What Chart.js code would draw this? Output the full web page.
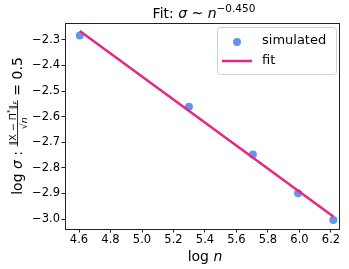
<!DOCTYPE html>
<html>
<head>
<meta charset="utf-8">
<script src="https://cdn.jsdelivr.net/npm/chart.js@4.4.1/dist/chart.umd.min.js"></script>
<style>
  html, body { margin: 0; padding: 0; background: #fff; }
  #wrap { width: 349px; height: 269px; }
</style>
</head>
<body>
<div id="wrap"><canvas id="fitChart" width="349" height="269"></canvas></div>
<script>
// log n for n = 100..500
const logN = [4.605, 5.298, 5.704, 5.991, 6.215];
const logSigma = [-2.283, -2.561, -2.748, -2.899, -3.004];
// fitted line endpoints (slope -0.450)
const fitX = [4.605, 6.215];
const fitY = [-2.265, -2.990];
const seriesNames = ['simulated', 'fit'];
const xTicks = [4.6, 4.8, 5.0, 5.2, 5.4, 5.6, 5.8, 6.0, 6.2];
const yTicks = [-3.0, -2.9, -2.8, -2.7, -2.6, -2.5, -2.4, -2.3];

const FONT = "'DejaVu Sans', sans-serif";
const PT_COLOR = '#6495ed';
const LINE_COLOR = '#e3287f';

const minus = v => v.toFixed(1).replace('-', '\u2212');

// draw a run of text pieces left to right, returns the end x
function runText(ctx, pieces, x, y) {
    pieces.forEach(p => {
        ctx.font = (p.italic ? 'italic ' : '') + p.size + 'px ' + FONT;
        ctx.fillText(p.t, x, y + (p.dy || 0));
        x += ctx.measureText(p.t).width;
    });
    return x;
}
function runWidth(ctx, pieces) {
    let w = 0;
    pieces.forEach(p => {
        ctx.font = (p.italic ? 'italic ' : '') + p.size + 'px ' + FONT;
        w += ctx.measureText(p.t).width;
    });
    return w;
}

const decorations = {
    id: 'decorations',
    afterDraw(chart) {
        const ctx = chart.ctx;
        const a = chart.chartArea;
        ctx.save();
        // frame
        ctx.strokeStyle = '#222';
        ctx.lineWidth = 1;
        ctx.strokeRect(Math.round(a.left) + 0.5, Math.round(a.top) + 0.5,
            Math.round(a.right - a.left), Math.round(a.bottom - a.top));

        ctx.fillStyle = '#000';
        ctx.textBaseline = 'alphabetic';
        const cx = (a.left + a.right) / 2;

        // title
        const title = [
            {t: 'Fit: ', size: 14}, {t: '\u03c3', size: 14, italic: true},
            {t: ' ~ ', size: 14}, {t: 'n', size: 14, italic: true},
            {t: '\u22120.450', size: 10.5, dy: -6}
        ];
        runText(ctx, title, cx - runWidth(ctx, title) / 2 + 2, 18);

        // x label
        const xl = [{t: 'log ', size: 14}, {t: 'n', size: 14, italic: true}];
        runText(ctx, xl, cx - runWidth(ctx, xl) / 2 + 3, 261);

        // y label (rotated)
        ctx.save();
        ctx.translate(22, (a.top + a.bottom) / 2);
        ctx.rotate(-Math.PI / 2);
        const pre = [{t: 'log ', size: 14}, {t: '\u03c3', size: 14, italic: true}, {t: ' : ', size: 14}];
        const num = [{t: '\u2016X \u2212 \u03a0', size: 9.5}, {t: '*', size: 7, dy: -3.5}, {t: '\u2016', size: 9.5}, {t: 'F', size: 6.5, dy: 2, italic: true}];
        const den = [{t: '\u221a', size: 9.5}, {t: 'n', size: 9.5, italic: true}];
        const post = [{t: ' = 0.5', size: 14}];
        const fw = Math.max(runWidth(ctx, num), runWidth(ctx, den)) + 2;
        const total = runWidth(ctx, pre) + fw + runWidth(ctx, post);
        let x = -total / 2;
        x = runText(ctx, pre, x, 0);
        const midY = -4.5;
        runText(ctx, num, x + (fw - runWidth(ctx, num)) / 2, midY - 2);
        runText(ctx, den, x + (fw - runWidth(ctx, den)) / 2, midY + 9);
        ctx.fillRect(x, midY - 0.5, fw, 0.8);
        x += fw;
        runText(ctx, post, x, 0);
        ctx.restore();

        // legend
        const lx = 217, ly = 27, lw = 119, lh = 47;
        ctx.beginPath();
        ctx.roundRect(lx + 0.5, ly + 0.5, lw, lh, 3);
        ctx.fillStyle = 'rgba(255,255,255,0.8)';
        ctx.fill();
        ctx.strokeStyle = '#d0d0d0';
        ctx.stroke();
        ctx.fillStyle = PT_COLOR;
        ctx.beginPath();
        ctx.arc(237, 42, 4, 0, Math.PI * 2);
        ctx.fill();
        ctx.strokeStyle = LINE_COLOR;
        ctx.lineWidth = 2.5;
        ctx.beginPath();
        ctx.moveTo(222, 61);
        ctx.lineTo(252, 61);
        ctx.stroke();
        ctx.fillStyle = '#000';
        ctx.font = '13px ' + FONT;
        ctx.textBaseline = 'middle';
        ctx.fillText(seriesNames[0], 262, 41);
        ctx.fillText(seriesNames[1], 262, 61);
        ctx.restore();
    }
};

const ctx = document.getElementById('fitChart').getContext('2d');
new Chart(ctx, {
    type: 'scatter',
    data: {
        datasets: [{
            label: seriesNames[1],
            data: fitX.map((x, i) => ({x: x, y: fitY[i]})),
            showLine: true,
            borderColor: LINE_COLOR,
            borderWidth: 2.5,
            pointRadius: 0,
            order: 0
        }, {
            label: seriesNames[0],
            data: logN.map((x, i) => ({x: x, y: logSigma[i]})),
            backgroundColor: PT_COLOR,
            borderWidth: 0,
            pointRadius: 4,
            order: 1
        }]
    },
    options: {
        responsive: false,
        animation: false,
        events: [],
        layout: {padding: {left: 0, right: 10, top: 23, bottom: 0}},
        plugins: {
            legend: {display: false},
            title: {display: false},
            tooltip: {enabled: false}
        },
        scales: {
            x: {
                type: 'linear',
                min: 4.511, max: 6.251,
                afterBuildTicks: s => { s.ticks = xTicks.map(v => ({value: v})); },
                afterFit: s => { s.height = 40; },
                grid: {drawOnChartArea: false, tickLength: 3.5, color: '#222'},
                border: {display: false},
                ticks: {
                    color: '#000', padding: 1,
                    font: {family: 'DejaVu Sans', size: 11.5},
                    callback: v => minus(v)
                }
            },
            y: {
                min: -3.039, max: -2.234,
                afterBuildTicks: s => { s.ticks = yTicks.map(v => ({value: v})); },
                afterFit: s => { s.width = 65; },
                grid: {drawOnChartArea: false, tickLength: 3.5, color: '#222'},
                border: {display: false},
                ticks: {
                    color: '#000', padding: 1.5,
                    font: {family: 'DejaVu Sans', size: 11.5},
                    callback: v => minus(v)
                }
            }
        }
    },
    plugins: [decorations]
});
</script>
</body>
</html>
